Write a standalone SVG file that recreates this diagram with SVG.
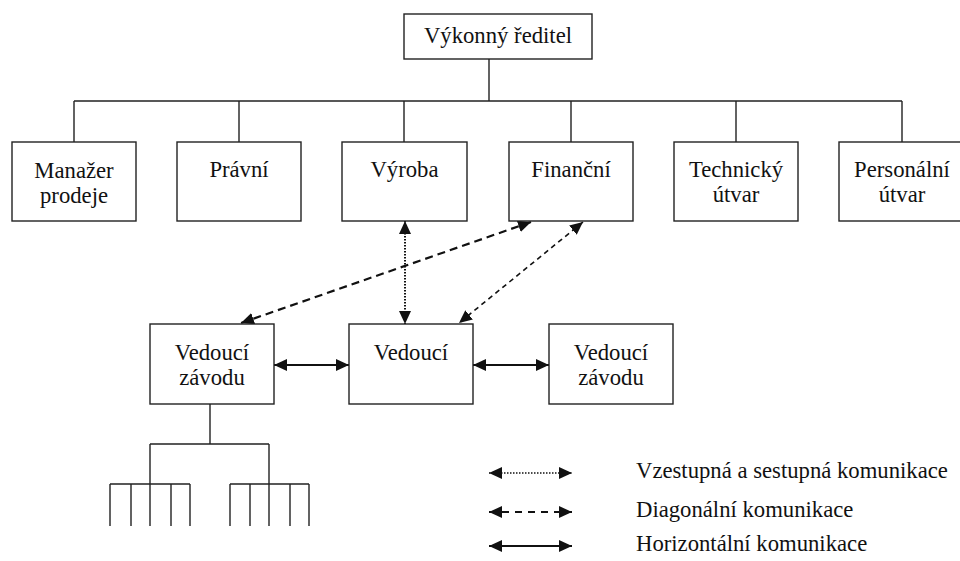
<svg xmlns="http://www.w3.org/2000/svg" width="960" height="561" viewBox="0 0 960 561">
<style>
  .box { fill: #fff; stroke: #222; stroke-width: 1.4; }
  text { font-family: 'Liberation Serif', 'Times New Roman', 'DejaVu Serif', serif; font-size: 22.7px; fill: #111; }
  .t { text-anchor: middle; }
  .ln { fill: none; stroke: #222; stroke-width: 1.4; }
  .solid { fill: none; stroke: #111; stroke-width: 2; }
  .dash { fill: none; stroke: #111; stroke-width: 2.2; stroke-dasharray: 8 5; }
  .dash2 { fill: none; stroke: #111; stroke-width: 1.6; stroke-dasharray: 5 4; }
  .dot { fill: none; stroke: #111; stroke-width: 2; stroke-dasharray: 1.5 1.5; }
</style>
<defs>
  <marker id="ah" markerUnits="userSpaceOnUse" markerWidth="13" markerHeight="12" refX="13" refY="6" orient="auto-start-reverse">
    <path d="M0,0 L13,6 L0,12 z" fill="#111"/>
  </marker>
</defs>
<rect width="960" height="561" fill="#fff"/>

<g id="connectors">
  <path class="ln" d="M489,59 V101 M74,101 H902 M74,101 V142 M239,101 V142 M404,101 V142 M571,101 V142 M736,101 V142 M902,101 V142"/>
  <path class="ln" d="M210,404 V444 M150,444 H269 M150,444 V484 M269,444 V484 M110,484 H190 M110,484 V526 M131,484 V526 M150,484 V526 M171,484 V526 M190,484 V526 M230,484 H309 M230,484 V526 M250,484 V526 M269,484 V526 M290,484 V526 M309,484 V526"/>
  <line class="dot" x1="405" y1="221" x2="405" y2="324" marker-start="url(#ah)" marker-end="url(#ah)"/>
  <line class="dash" x1="531" y1="222" x2="241" y2="323" marker-start="url(#ah)" marker-end="url(#ah)"/>
  <line class="dash2" x1="583" y1="222" x2="459" y2="323" marker-start="url(#ah)" marker-end="url(#ah)"/>
  <line class="solid" x1="274" y1="365" x2="349" y2="365" marker-start="url(#ah)" marker-end="url(#ah)"/>
  <line class="solid" x1="473" y1="365" x2="549" y2="365" marker-start="url(#ah)" marker-end="url(#ah)"/>
</g>

<g id="n-reditel"><rect class="box" x="404" y="14" width="188" height="45"/><text class="t" x="498" y="43">Výkonný ředitel</text></g>
<g id="n-manazer"><rect class="box" x="12" y="142" width="124" height="79"/><text class="t" x="74" y="178">Manažer</text><text class="t" x="74" y="203">prodeje</text></g>
<g id="n-pravni"><rect class="box" x="177" y="142" width="124" height="79"/><text class="t" x="239" y="177">Právní</text></g>
<g id="n-vyroba"><rect class="box" x="342" y="142" width="125" height="79"/><text class="t" x="404.5" y="177">Výroba</text></g>
<g id="n-financni"><rect class="box" x="509" y="142" width="124" height="79"/><text class="t" x="571" y="177">Finanční</text></g>
<g id="n-technicky"><rect class="box" x="674" y="142" width="124" height="79"/><text class="t" x="736" y="177">Technický</text><text class="t" x="736" y="202">útvar</text></g>
<g id="n-personalni"><rect class="box" x="839" y="142" width="124" height="79"/><text class="t" x="902" y="177">Personální</text><text class="t" x="902" y="202">útvar</text></g>

<g id="n-vedouci-l"><rect class="box" x="150" y="324" width="124" height="80"/><text class="t" x="212" y="360">Vedoucí</text><text class="t" x="212" y="385">závodu</text></g>
<g id="n-vedouci-m"><rect class="box" x="349" y="324" width="124" height="80"/><text class="t" x="411" y="360">Vedoucí</text></g>
<g id="n-vedouci-r"><rect class="box" x="549" y="324" width="124" height="80"/><text class="t" x="611" y="360">Vedoucí</text><text class="t" x="611" y="385">závodu</text></g>

<g id="legend">
  <line class="dot" x1="489" y1="473" x2="572" y2="473" style="stroke-width:1.6" marker-start="url(#ah)" marker-end="url(#ah)"/>
  <line class="dash" x1="489" y1="512" x2="572" y2="512" style="stroke-dasharray:7 6" marker-start="url(#ah)" marker-end="url(#ah)"/>
  <line class="solid" x1="489" y1="546" x2="572" y2="546" marker-start="url(#ah)" marker-end="url(#ah)"/>
  <text x="636" y="478">Vzestupná a sestupná komunikace</text>
  <text x="636" y="517">Diagonální komunikace</text>
  <text x="636" y="551">Horizontální komunikace</text>
</g>
</svg>
